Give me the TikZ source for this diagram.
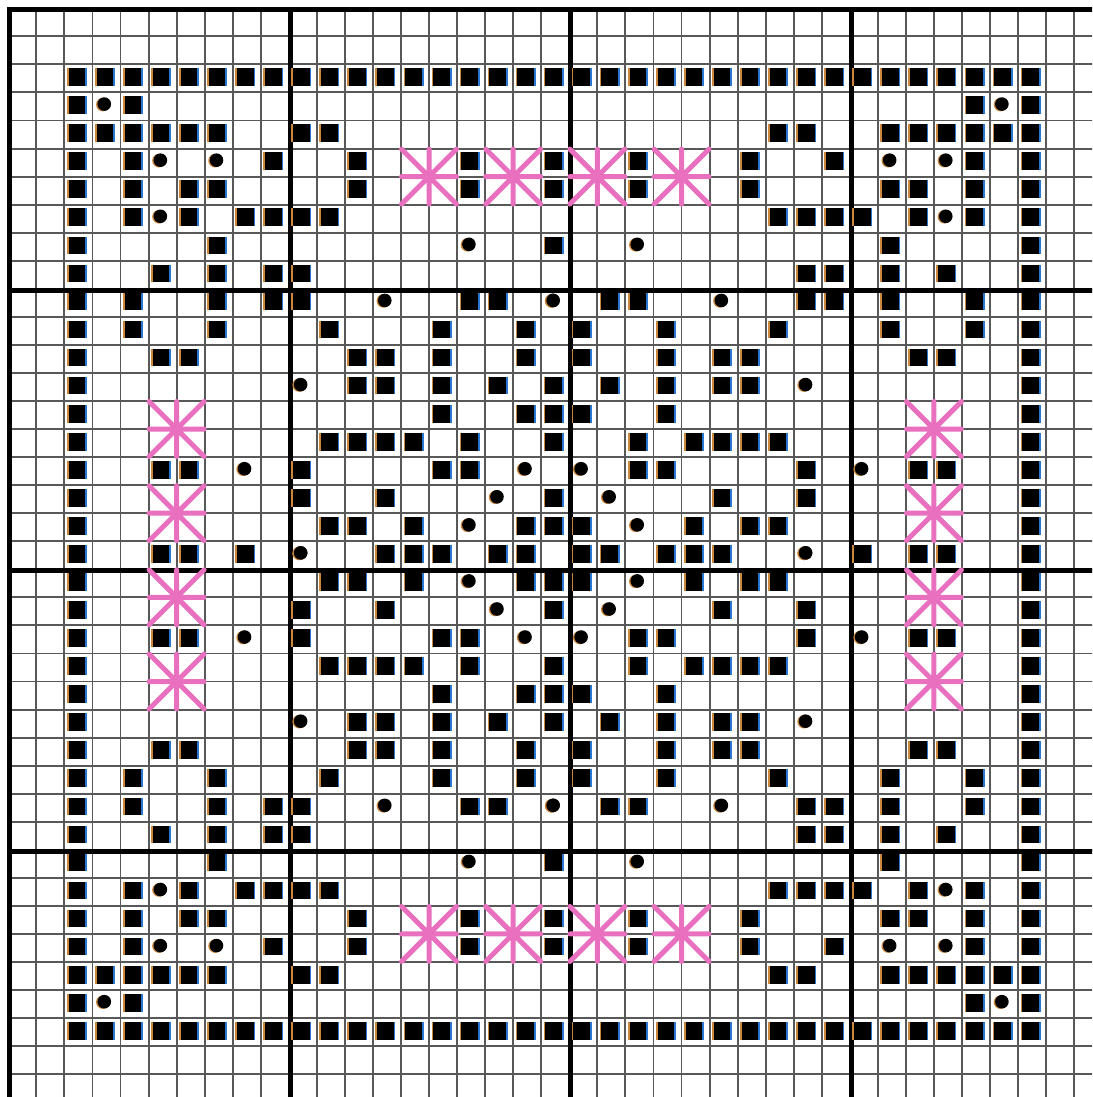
\documentclass[tikz,border=0pt]{standalone}
\definecolor{gridgray}{RGB}{88,88,88}
\definecolor{shadeor}{RGB}{205,135,60}
\definecolor{shadebl}{RGB}{40,120,210}
\definecolor{starpink}{RGB}{232,112,190}
\tikzset{
  thingrid/.style={gridgray, line width=1.9pt},
  thickgrid/.style={black, line width=5pt, line cap=rect},
  starline/.style={starpink, line width=5pt, line cap=round},
  fullsq/.pic={
    \fill[shadeor] (-11.5,-10.2) rectangle (-8,7.5);
    \fill[shadebl] (5,-10.2) rectangle (8.5,7.5);
    \fill[black] (-9.9,-10.2) rectangle (6.8,7.5);
  },
  dotst/.pic={
    \fill[shadeor] (-3.6,-1.9) circle (6.8pt);
    \fill[black] (-2.2,-2.4) circle (6.8pt);
  },
  smyrna/.pic={
    \draw[starline] (-27.5,0) -- (27.5,0) (0,-27.5) -- (0,27.5)
      (-27.5,-27.5) -- (27.5,27.5) (-27.5,27.5) -- (27.5,-27.5);
  },
}
\newcommand\quadstitch[3]{%
  \foreach \qa/\qb in {#1/#2,38-#1/#2,#1/38-#2,38-#1/38-#2}
    \pic at ({8.3+28.05*(\qa+0.5)},{8.3+28.05*(\qb+0.5)}) {#3};%
}
\begin{document}
\begin{tikzpicture}[x=1pt,y=-1pt]
\useasboundingbox (0,0) rectangle (1092,1097);
\fill[white] (0,0) rectangle (1092,1097);
\begin{scope}
\clip (0,0) rectangle (1092,1097);
% thin grid
\foreach \i in {1,...,38} {
  \draw[thingrid] ({8.3+28.05*\i},10) -- ({8.3+28.05*\i},1100);
  \draw[thingrid] (10,{8.3+28.05*\i}) -- (1100,{8.3+28.05*\i});
}
% thick grid every 10 cells
\foreach \i in {0,10,20,30} {
  \draw[thickgrid] ({9.8+28.05*\i},9.8) -- ({9.8+28.05*\i},1105);
  \draw[thickgrid] (9.8,{9.8+28.05*\i}) -- (1105,{9.8+28.05*\i});
}
% full stitches (one quadrant, mirrored four ways)
\foreach \c/\r in {
  2/2,3/2,4/2,5/2,6/2,7/2,8/2,9/2,10/2,11/2,12/2,13/2,14/2,15/2,16/2,17/2,18/2,19/2,
  2/3,4/3,
  2/4,3/4,4/4,5/4,6/4,7/4,10/4,11/4,
  2/5,4/5,9/5,12/5,16/5,19/5,
  2/6,4/6,6/6,7/6,12/6,16/6,19/6,
  2/7,4/7,6/7,8/7,9/7,10/7,11/7,
  2/8,7/8,19/8,
  2/9,5/9,7/9,9/9,10/9,
  2/10,4/10,7/10,9/10,10/10,16/10,17/10,
  2/11,4/11,7/11,11/11,15/11,18/11,
  2/12,5/12,6/12,12/12,13/12,15/12,18/12,
  2/13,12/13,13/13,15/13,17/13,19/13,
  2/14,15/14,18/14,19/14,
  2/15,11/15,12/15,13/15,14/15,16/15,19/15,
  2/16,5/16,6/16,10/16,15/16,16/16,
  2/17,10/17,13/17,19/17,
  2/18,11/18,12/18,14/18,18/18,19/18,
  2/19,5/19,6/19,8/19,13/19,14/19,15/19,17/19,18/19}
  {\quadstitch{\c}{\r}{fullsq}}
% french knots
\foreach \c/\r in {3/3,5/5,7/5,5/7,16/8,13/10,19/10,10/13,8/16,18/16,17/17,16/18,10/19}
  {\quadstitch{\c}{\r}{dotst}}
% smyrna stars, centred on grid intersections
\foreach \g in {15,18,21,24} {
  \pic at ({8.3+28.05*\g},{8.3+28.05*6}) {smyrna};
  \pic at ({8.3+28.05*\g},{8.3+28.05*33}) {smyrna};
  \pic at ({8.3+28.05*6},{8.3+28.05*\g}) {smyrna};
  \pic at ({8.3+28.05*33},{8.3+28.05*\g}) {smyrna};
}
\end{scope}
\end{tikzpicture}
\end{document}
